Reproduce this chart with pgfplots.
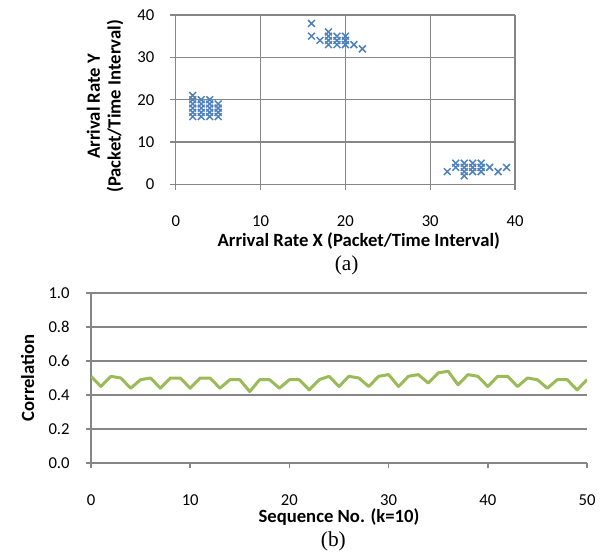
\documentclass[border=0pt]{standalone}
\usepackage{pgfplots}
\pgfplotsset{compat=1.18}
\usepackage{fontspec}
\setmainfont{Carlito}
\newfontfamily\capfont{Liberation Serif}

\definecolor{xblue}{RGB}{79,129,189}
\definecolor{lgreen}{RGB}{155,187,89}
\definecolor{gridgray}{RGB}{134,134,134}

% common Excel-like look
\pgfplotsset{excel/.style={
  scale only axis,
  axis x line*=bottom, axis y line*=left,
  axis line style={gridgray, line width=1.1pt},
  grid style={gridgray, line width=1.1pt},
  major tick style={gridgray, line width=1.1pt},
  major tick length=4pt,
  tick align=outside,
  tick label style={font=\fontsize{12.5}{14}\selectfont},
  yticklabel style={xshift=-8.5pt},
  label style={font=\fontsize{14}{15.5}\selectfont\bfseries},
  /pgf/number format/assume math mode=true,
}}

\begin{document}
\begin{tikzpicture}
\useasboundingbox (0,0) rectangle (462pt,414.75pt);

% (a) arrival rates
\begin{axis}[excel,
  at={(131.8pt,276.5pt)}, anchor=south west,
  width=254.5pt, height=127pt,
  xmin=0, xmax=40, ymin=0, ymax=40,
  xtick={0,10,20,30,40}, ytick={0,10,20,30,40},
  xmajorgrids, ymajorgrids,
  xticklabel style={anchor=center, yshift=-23.3pt},
  xlabel={Arrival Rate X (Packet/Time Interval)},
  xlabel style={at={(axis description cs:0.5,0)}, anchor=center, yshift=-42.5pt, xshift=10pt},
  ylabel={Arrival Rate Y\\(Packet/Time Interval)},
  ylabel style={align=center, at={(axis description cs:0,0.5)}, anchor=center, yshift=53pt, xshift=-5pt},
]
\addplot[only marks, mark=x, mark size=3.6pt, mark options={xblue, line width=1.1pt}] coordinates {
  (2,16)(2,17)(2,18)(2,19)(2,20)(2,21)
  (3,16)(3,17)(3,18)(3,19)(3,20)
  (4,16)(4,17)(4,18)(4,19)(4,20)
  (5,16)(5,17)(5,18)(5,19)
  (16,38)(16,35)(17,34)(18,33)(18,34)(18,35)(18,36)
  (19,33)(19,34)(19,35)(20,33)(20,34)(20,35)(21,33)(22,32)
  (32,3)(33,4)(33,5)(34,2)(34,3)(34,4)(34,5)(35,3)(35,4)(35,5)
  (36,3)(36,4)(36,5)(37,4)(38,3)(39,4)
};
\end{axis}

% (b) correlation
\begin{axis}[excel,
  at={(68.25pt,67.5pt)}, anchor=south west,
  width=372pt, height=127.5pt,
  xmin=0, xmax=50, ymin=0, ymax=1,
  xtick={0,10,20,30,40,50}, ytick={0,0.2,0.4,0.6,0.8,1.0},
  ymajorgrids,
  yticklabel style={/pgf/number format/fixed, /pgf/number format/fixed zerofill, /pgf/number format/precision=1},
  xticklabel style={anchor=center, yshift=-23.5pt},
  xlabel={Sequence No. (k=10)},
  xlabel style={at={(axis description cs:0.5,0)}, anchor=center, yshift=-40.5pt},
  ylabel={Correlation},
  ylabel style={at={(axis description cs:0,0.5)}, anchor=center, yshift=47.5pt},
]
\addplot[lgreen, line width=2.25pt, line join=round] coordinates {
  (0,0.51)(1,0.45)(2,0.51)(3,0.50)(4,0.44)(5,0.49)(6,0.50)(7,0.44)(8,0.50)(9,0.50)
  (10,0.44)(11,0.50)(12,0.50)(13,0.44)(14,0.49)(15,0.49)(16,0.42)(17,0.49)(18,0.49)(19,0.44)
  (20,0.49)(21,0.49)(22,0.43)(23,0.49)(24,0.51)(25,0.45)(26,0.51)(27,0.50)(28,0.45)(29,0.51)
  (30,0.52)(31,0.45)(32,0.51)(33,0.52)(34,0.47)(35,0.53)(36,0.54)(37,0.46)(38,0.52)(39,0.51)
  (40,0.45)(41,0.51)(42,0.51)(43,0.45)(44,0.50)(45,0.49)(46,0.44)(47,0.49)(48,0.49)(49,0.43)
  (50,0.49)
};
\end{axis}

\node[font=\capfont\fontsize{16}{18}\selectfont] at (260pt,216pt) {(a)};
\node[font=\capfont\fontsize{16}{18}\selectfont] at (250pt,9pt) {(b)};
\end{tikzpicture}
\end{document}
